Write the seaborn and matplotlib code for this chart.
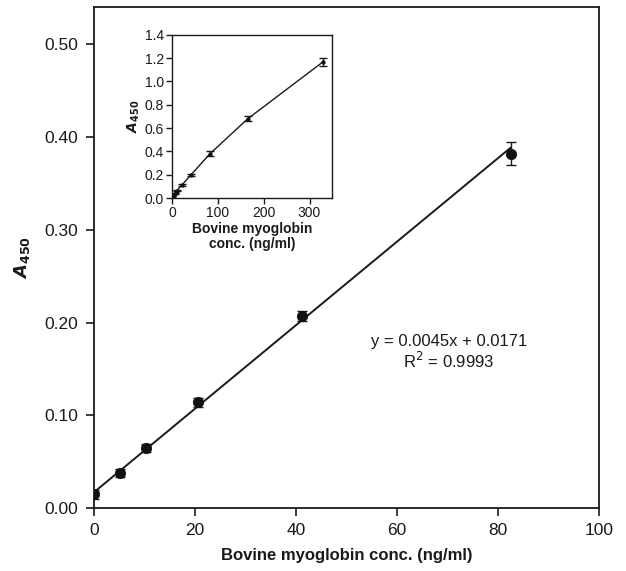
import matplotlib
matplotlib.use("Agg")
import matplotlib.pyplot as plt
import numpy as np
import seaborn as sb
import pandas as pd

# date curba de calibrare
conc = [0, 5.16, 10.3, 20.6, 41.25, 82.5]
a450 = [0.015, 0.038, 0.065, 0.114, 0.207, 0.382]
err = [0.005, 0.004, 0.004, 0.005, 0.005, 0.012]

# date inset (domeniu extins)
conc_ins = [0, 5.16, 10.3, 20.6, 41.25, 82.5, 165, 330]
a450_ins = [0.015, 0.038, 0.065, 0.11, 0.2, 0.38, 0.68, 1.17]
err_ins = [0.005, 0.005, 0.005, 0.01, 0.01, 0.02, 0.02, 0.035]

panta, intercept = 0.0045, 0.0171

sb.set_theme(style="ticks")
plt.rcParams["font.family"] = ["Liberation Sans", "DejaVu Sans"]

t = pd.DataFrame({"conc": conc, "a450": a450})
ti = pd.DataFrame({"conc": conc_ins, "a450": a450_ins})

fig = plt.figure(figsize=(6.26, 5.71), dpi=100)
ax = fig.add_axes([0.150, 0.110, 0.807, 0.878])

xl = np.array([0, conc[-1]])
ax.plot(xl, panta * xl + intercept, color="#1a1a1a", lw=1.4, zorder=2)
ax.errorbar(conc, a450, yerr=err, fmt="none", ecolor="#1a1a1a", elinewidth=1.0,
            capsize=3.5, capthick=1.0, zorder=3)
sb.scatterplot(data=t, x="conc", y="a450", ax=ax, color="#111111", s=55,
               edgecolor="#111111", zorder=4, legend=False)
ax.set_xlim(0, 100)
ax.set_ylim(0, 0.54)
ax.set_xticks([0, 20, 40, 60, 80, 100])
ax.set_yticks([0, 0.1, 0.2, 0.3, 0.4, 0.5])
ax.set_yticklabels(["0.00", "0.10", "0.20", "0.30", "0.40", "0.50"])
ax.tick_params(labelsize=12.5, length=6, width=1.2, pad=5, color="#1a1a1a",
               labelcolor="#1a1a1a")
for s in ax.spines.values():
    s.set_linewidth(1.3)
    s.set_color("#1a1a1a")
ax.set_xlabel("Bovine myoglobin conc. (ng/ml)", fontsize=12, fontweight="bold",
              color="#1a1a1a", labelpad=7)
ax.set_ylabel(r"$\mathbfit{A}_{\mathbf{450}}$", fontsize=13, color="#1a1a1a", labelpad=9)
ax.text(70.3, 0.168, "y = 0.0045x + 0.0171\nR$^2$ = 0.9993", fontsize=12,
        ha="center", va="center", color="#1a1a1a", linespacing=1.1)

# inset
axi = fig.add_axes([0.275, 0.653, 0.256, 0.286])
axi.plot(conc_ins, a450_ins, color="#1a1a1a", lw=1.0, zorder=2)
axi.errorbar(conc_ins, a450_ins, yerr=err_ins, fmt="none", ecolor="#1a1a1a",
             elinewidth=1.0, capsize=3, capthick=1.0, zorder=3)
sb.scatterplot(data=ti, x="conc", y="a450", ax=axi, color="#111111", s=8,
               edgecolor="#111111", zorder=4, legend=False)
axi.set_xlim(0, 350)
axi.set_ylim(0, 1.4)
axi.set_xticks([0, 100, 200, 300])
axi.set_yticks(np.arange(0, 1.41, 0.2))
axi.set_yticklabels(["0.0", "0.2", "0.4", "0.6", "0.8", "1.0", "1.2", "1.4"])
axi.tick_params(labelsize=10, length=4, width=1.0, pad=2, color="#1a1a1a",
                labelcolor="#1a1a1a")
for s in axi.spines.values():
    s.set_linewidth(1.0)
    s.set_color("#1a1a1a")
axi.set_xlabel("Bovine myoglobin\nconc. (ng/ml)", fontsize=10, fontweight="bold",
               color="#1a1a1a", labelpad=1, linespacing=1.1)
axi.set_ylabel(r"$\mathbfit{A}_{\mathbf{450}}$", fontsize=10, color="#1a1a1a", labelpad=2)

fig.savefig("out.png", dpi=100)
